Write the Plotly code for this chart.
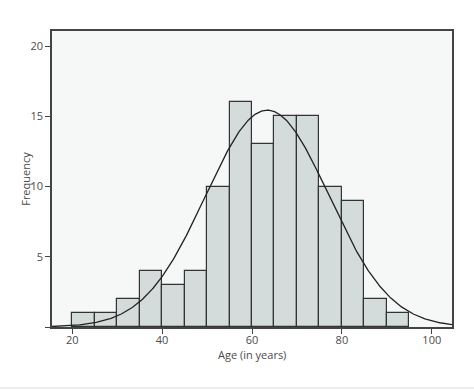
import numpy as np
import plotly.graph_objects as go

# Histogram data (5-year bins)
bin_starts = [20, 25, 30, 35, 40, 45, 50, 55, 60, 65, 70, 75, 80, 85, 90]
counts = [1, 1, 2, 4, 3, 4, 10, 16, 13, 15, 15, 10, 9, 2, 1]
bin_width = 5

# Fitted normal curve parameters
curve_mean = 63.4
curve_sd = 13.7

x_ticks = [20, 40, 60, 80, 100]
y_ticks = [0, 5, 10, 15, 20]
y_tick_labels = ["", "5", "10", "15", "20"]

x_title = "Age (in years)"
y_title = "Frequency"

x_range = [15.5, 104.5]
y_range = [0, 21.07]

n_total = sum(counts)
centers = [s + bin_width / 2 for s in bin_starts]
xc = np.linspace(x_range[0], x_range[1], 400)
yc = n_total * bin_width * np.exp(-0.5 * ((xc - curve_mean) / curve_sd) ** 2) / (curve_sd * np.sqrt(2 * np.pi))

fig = go.Figure()
fig.add_trace(go.Bar(
    x=centers, y=counts, width=bin_width,
    marker=dict(color="#d4dbdb", line=dict(color="#333333", width=1.2)),
    hoverinfo="skip",
))
fig.add_trace(go.Scatter(
    x=xc, y=yc, mode="lines",
    line=dict(color="#222222", width=1.3),
    hoverinfo="skip",
))

font = dict(family="Open Sans, Noto Sans, sans-serif", size=11, color="#4a4a4a")

fig.add_shape(type="line", xref="paper", yref="paper",
              x0=-0.13, x1=1.055, y0=-0.206, y1=-0.206,
              line=dict(color="#dcdcdc", width=1))

fig.add_annotation(text=x_title, xref="paper", yref="paper", x=0.5, y=-0.094,
                   xanchor="center", yanchor="middle", showarrow=False, font=font)
fig.add_annotation(text=y_title, xref="paper", yref="paper", x=-0.068, y=0.5,
                   xanchor="center", yanchor="middle", textangle=-90, showarrow=False, font=font)

fig.update_layout(
    width=474, height=390,
    margin=dict(l=52, r=22, t=31, b=63, autoexpand=False),
    paper_bgcolor="white",
    plot_bgcolor="#f6f8f8",
    showlegend=False,
    font=font,
    bargap=0,
    xaxis=dict(
        range=x_range, tickvals=x_ticks, ticks="outside", ticklen=5, tickcolor="#444444",
        showline=True, linecolor="#444444", linewidth=1.5, mirror=True,
        showgrid=False, zeroline=False, ticklabelstandoff=-3,
        tickfont=font,
    ),
    yaxis=dict(
        range=y_range, tickvals=y_ticks, ticktext=y_tick_labels, ticks="outside", ticklen=5,
        tickcolor="#444444",
        showline=True, linecolor="#444444", linewidth=1.5, mirror=True,
        showgrid=False, zeroline=False,
        tickfont=font,
    ),
)

fig.write_html("out.html", config={"displayModeBar": False},
               post_script="document.body.style.margin='0';")
